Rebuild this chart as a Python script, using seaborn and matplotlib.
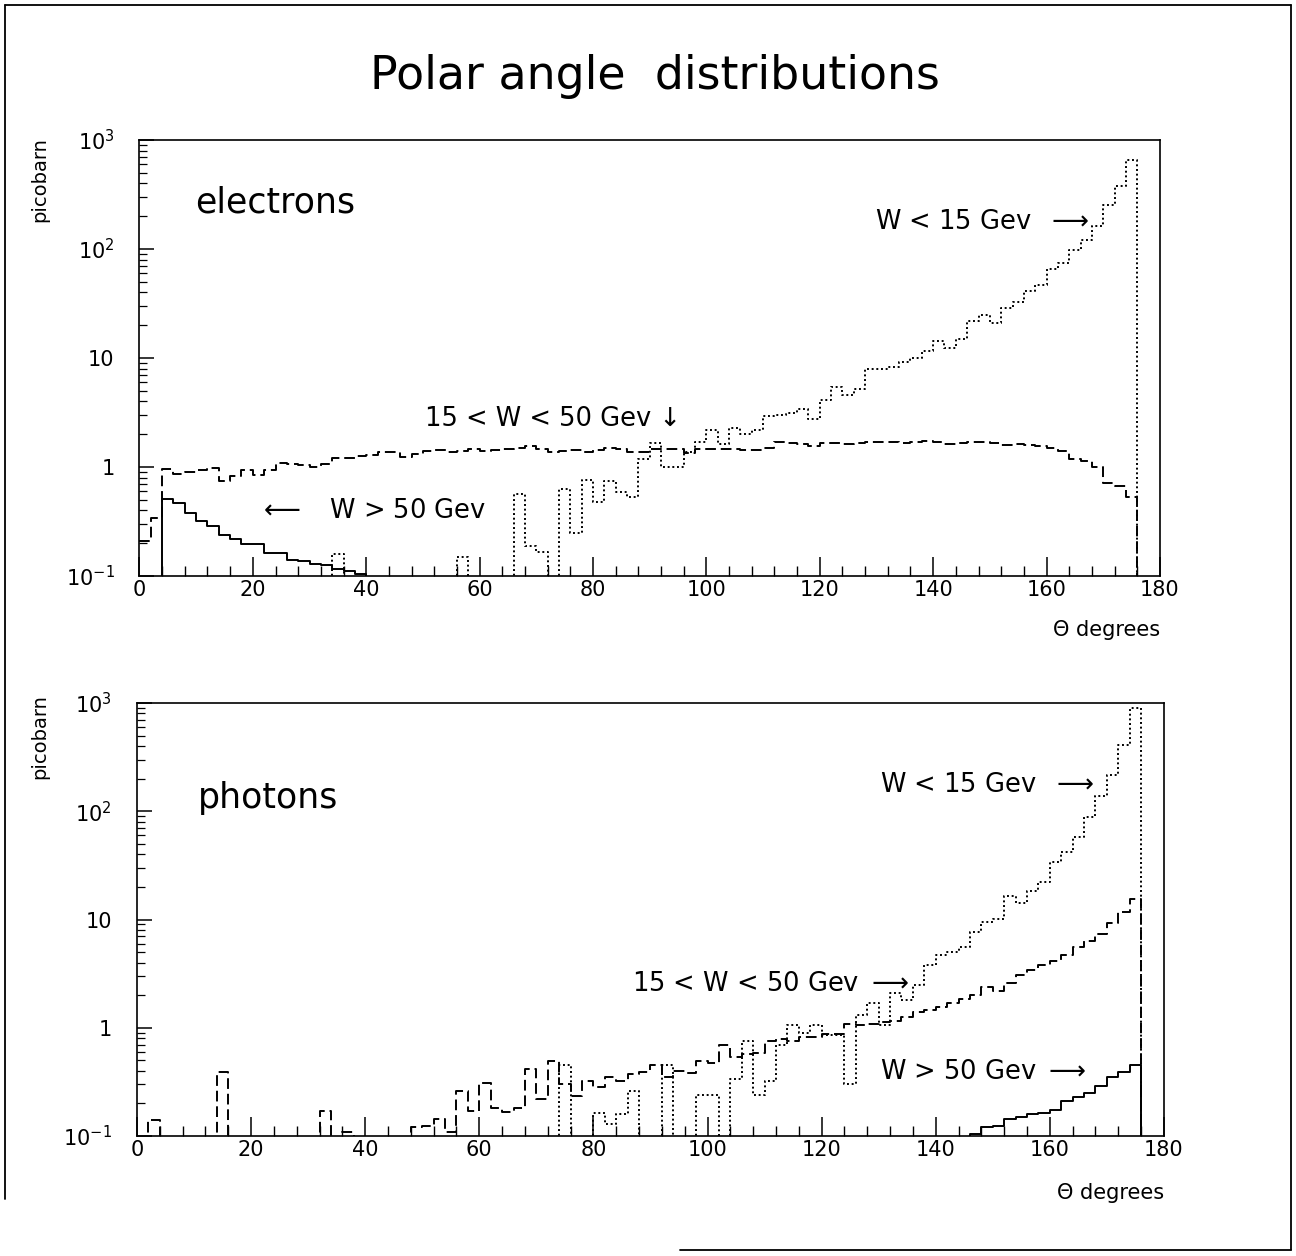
import numpy as np
import pandas as pd
import matplotlib
matplotlib.use("Agg")
import matplotlib.pyplot as plt
import seaborn as sns
from matplotlib.lines import Line2D
from matplotlib.ticker import (FixedLocator, FixedFormatter, MultipleLocator,
                               LogLocator, NullFormatter)

# ---------------- data (bins of 2 degrees, 0..176) ----------------
theta_edges = np.arange(0, 178, 2)          # 89 edges -> 88 bins
theta_centers = theta_edges[:-1] + 1.0

electrons_low = [0]*17 + [0.16] + [0]*10 + [0.15] + [0]*4 + [
    0.57, 0.19, 0.166, 0, 0.63, 0.25, 0.76, 0.48, 0.75, 0.59,
    0.53, 1.18, 1.66, 1.0, 1.0, 1.37, 1.69, 2.2, 1.62, 2.3,
    2.0, 2.2, 2.95, 3.0, 3.1, 3.4, 2.75, 4.1, 5.4, 4.6,
    5.2, 8.0, 8.0, 8.3, 9.1, 10, 11.7, 14.3, 12.3, 14.8,
    21.8, 24.7, 20.8, 28.9, 33, 41, 47, 65, 74, 98,
    122, 164, 255, 376, 660]

electrons_mid = [
    0.21, 0.34, 0.96, 0.86, 0.90, 0.93, 0.98, 0.75, 0.83, 0.93,
    0.84, 0.93, 1.10, 1.07, 1.05, 1.00, 1.07, 1.20, 1.22, 1.27,
    1.28, 1.36, 1.38, 1.24, 1.32, 1.41, 1.44, 1.38, 1.41, 1.46,
    1.41, 1.43, 1.47, 1.49, 1.57, 1.45, 1.36, 1.41, 1.43, 1.38,
    1.43, 1.50, 1.45, 1.38, 1.36, 1.45, 1.45, 1.45, 1.34, 1.45,
    1.45, 1.47, 1.45, 1.43, 1.43, 1.49, 1.68, 1.66, 1.63, 1.57,
    1.66, 1.66, 1.62, 1.66, 1.70, 1.71, 1.68, 1.66, 1.70, 1.72,
    1.68, 1.62, 1.65, 1.70, 1.70, 1.66, 1.59, 1.62, 1.59, 1.57,
    1.51, 1.41, 1.18, 1.14, 1.00, 0.72, 0.67, 0.53]

electrons_high = [
    0, 0, 0.51, 0.47, 0.38, 0.32, 0.29, 0.24, 0.22, 0.197,
    0.197, 0.163, 0.163, 0.139, 0.137, 0.13, 0.127, 0.116, 0.11, 0.105] + [0]*68

photons_low = [0]*37 + [
    0.45, 0, 0, 0.165, 0.13, 0.16, 0.26, 0, 0, 0.45,
    0, 0, 0.24, 0.24, 0, 0.34, 0.75, 0.24, 0.32, 0.7,
    1.05, 0.9, 1.05, 0.85, 0.85, 0.3, 1.3, 1.7, 1.05, 2.1,
    1.8, 2.5, 3.8, 4.7, 5.0, 5.6, 7.7, 9.5, 10.2, 16.6,
    14.1, 18.3, 22.3, 34, 42, 58, 89, 137, 217, 410,
    900]

photons_mid = [0, 0.14] + [0]*5 + [0.39] + [0]*8 + [0.17, 0, 0.11] + [0]*5 + [
    0.12, 0.125, 0.145, 0.11, 0.26, 0.17,
    0.31, 0.18, 0.168, 0.18, 0.42, 0.22, 0.49, 0.30, 0.236, 0.32,
    0.284, 0.35, 0.32, 0.375, 0.39, 0.45, 0.35, 0.40, 0.38, 0.49,
    0.47, 0.69, 0.54, 0.57, 0.58, 0.76, 0.78, 0.75, 0.82, 0.83,
    0.87, 0.87, 1.09, 1.06, 1.09, 1.12, 1.16, 1.26, 1.40, 1.47,
    1.55, 1.70, 1.85, 1.99, 2.38, 2.2, 2.6, 3.05, 3.4, 3.77,
    4.1, 4.67, 5.6, 6.35, 7.4, 9.2, 11.7, 15.4]

photons_high = [0]*73 + [
    0.105, 0.12, 0.125, 0.144, 0.15, 0.16, 0.165, 0.175, 0.21, 0.23,
    0.25, 0.29, 0.35, 0.39, 0.45]

x_ticks = [0, 20, 40, 60, 80, 100, 120, 140, 160, 180]
y_ticks = [0.1, 1, 10, 100, 1000]
y_ticklabels = [r"$10^{-1}$", "1", "10", r"$10^{2}$", r"$10^{3}$"]

# ---------------- style ----------------
sns.set_theme(style="white")
plt.rcParams["font.family"] = ["DejaVu Sans"]
plt.rcParams["mathtext.fontset"] = "dejavusans"
plt.rcParams["mathtext.default"] = "regular"
plt.rcParams["axes.linewidth"] = 1.2
plt.rcParams["axes.edgecolor"] = "black"
plt.rcParams["text.color"] = "black"
plt.rcParams["xtick.color"] = "black"
plt.rcParams["ytick.color"] = "black"

DOT = (0, (1.0, 1.4))
DASH = (0, (5.5, 2.5))
SOLID = "-"

fig = plt.figure(figsize=(12.96, 12.56), dpi=100)
ax_top = fig.add_axes([0.1076, 0.5414, 0.7874, 0.3471])
ax_bot = fig.add_axes([0.1057, 0.0955, 0.7924, 0.3448])


def draw_hist(ax, values, style):
    # pad with an empty bin so the step closes down at 176 degrees
    centers = np.append(theta_centers, 177.0)
    weights = np.append(np.asarray(values, dtype=float), 0.0)
    edges = [float(e) for e in np.append(theta_edges, 178.0)]
    df = pd.DataFrame({"theta": centers, "pb": weights})
    sns.histplot(data=df, x="theta", weights="pb", bins=edges,
                 element="step", fill=False, color="black",
                 linewidth=1.4, linestyle=style, ax=ax)


for ax, series in ((ax_top, (electrons_low, electrons_mid, electrons_high)),
                   (ax_bot, (photons_low, photons_mid, photons_high))):
    for vals, st in zip(series, (DOT, DASH, SOLID)):
        draw_hist(ax, vals, st)
    ax.set_yscale("log")
    ax.set_xlim(0, 180)
    ax.set_ylim(0.1, 1000)
    ax.set_xlabel("")
    ax.set_ylabel("")
    ax.grid(False)
    for sp in ax.spines.values():
        sp.set_visible(True)
        sp.set_color("black")
        sp.set_linewidth(1.2)
    ax.xaxis.set_major_locator(FixedLocator(x_ticks))
    ax.xaxis.set_minor_locator(MultipleLocator(4))
    ax.yaxis.set_major_locator(FixedLocator(y_ticks))
    ax.yaxis.set_major_formatter(FixedFormatter(y_ticklabels))
    ax.yaxis.set_minor_locator(LogLocator(base=10, subs=np.arange(2, 10)))
    ax.yaxis.set_minor_formatter(NullFormatter())
    ax.tick_params(axis="x", which="major", direction="in", length=14,
                   width=1.1, top=False, bottom=True, labelsize=15, pad=3)
    ax.tick_params(axis="x", which="minor", direction="in", length=7,
                   width=1.0, top=False, bottom=True)
    ax.tick_params(axis="y", which="major", direction="in", length=11,
                   width=1.1, left=True, right=False, labelsize=15, pad=18)
    ax.tick_params(axis="y", which="minor", direction="in", length=6,
                   width=0.9, left=True, right=False)

TXT = dict(color="black")
RARR = r"$\longrightarrow$"
LARR = r"$\longleftarrow$"

# title and axis texts
fig.text(0.505, 0.9387, "Polar angle  distributions", ha="center", va="center",
         fontsize=33, **TXT)
fig.text(0.031, 0.8567, "picobarn", rotation=90, ha="center", va="center",
         fontsize=14, **TXT)
fig.text(0.031, 0.4132, "picobarn", rotation=90, ha="center", va="center",
         fontsize=14, **TXT)
fig.text(0.895, 0.4984, "\u0398 degrees", ha="right", va="center",
         fontsize=15, **TXT)
fig.text(0.898, 0.0502, "\u0398 degrees", ha="right", va="center",
         fontsize=15, **TXT)

# panel annotations
ax_top.text(9.8, 266, "electrons", ha="left", va="center", fontsize=25, **TXT)
ax_top.text(129.7, 178, "W < 15 Gev  " + RARR, ha="left", va="center",
            fontsize=18.5, **TXT)
ax_top.text(50.4, 2.75, "15 < W < 50 Gev \u2193", ha="left", va="center",
            fontsize=18.5, **TXT)
ax_top.text(20.9, 0.395, LARR + "   W > 50 Gev", ha="left", va="center",
            fontsize=18.5, **TXT)

ax_bot.text(10.7, 132, "photons", ha="left", va="center", fontsize=25, **TXT)
ax_bot.text(130.2, 174, "W < 15 Gev  " + RARR, ha="left", va="center",
            fontsize=18.5, **TXT)
ax_bot.text(86.8, 2.55, "15 < W < 50 Gev " + RARR, ha="left", va="center",
            fontsize=18.5, **TXT)
ax_bot.text(130.2, 0.39, "W > 50 Gev " + RARR, ha="left", va="center",
            fontsize=18.5, **TXT)

# outer page frame
fr = dict(color="black", linewidth=1.3, transform=fig.transFigure)
fig.add_artist(Line2D([0.0039, 0.0039], [0.996, 0.045], **fr))
fig.add_artist(Line2D([0.0039, 0.9961], [0.996, 0.996], **fr))
fig.add_artist(Line2D([0.9961, 0.9961], [0.996, 0.0048], **fr))
fig.add_artist(Line2D([0.5247, 0.9961], [0.0048, 0.0048], **fr))

fig.savefig("out.png", dpi=100, facecolor="white")
